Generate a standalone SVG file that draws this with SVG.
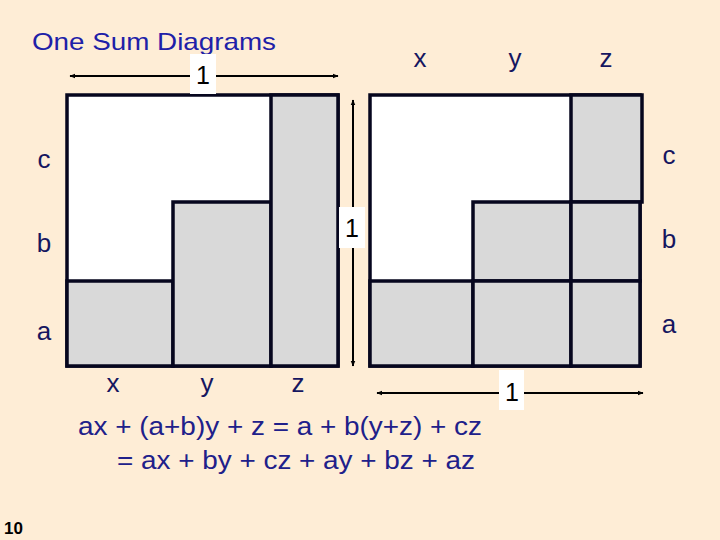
<svg xmlns="http://www.w3.org/2000/svg" width="720" height="540" viewBox="0 0 720 540">
<style>
.bg{fill:#FEEDD6}
.w{fill:#FFFFFF;stroke:#06061E;stroke-width:3.5}
.g{fill:#D9D9D9;stroke:#06061E;stroke-width:3.5}
.lbl{font-family:"Liberation Sans",Arial,sans-serif;font-size:26px;fill:#161660;text-anchor:middle}
.one{font-family:"Liberation Sans",Arial,sans-serif;font-size:25px;fill:#000;text-anchor:middle}
.title{font-family:"Liberation Sans",Arial,sans-serif;font-size:24px;fill:#2020A8}
.eq{font-family:"Liberation Sans",Arial,sans-serif;font-size:26px;fill:#20208A}
.arr{stroke:#000;stroke-width:2;fill:none;marker-start:url(#ah);marker-end:url(#ah)}
.lb{fill:#FFFFFF}
</style>
<defs>
<marker id="ah" viewBox="0 0 10 10" refX="9" refY="5" markerWidth="6" markerHeight="6" orient="auto-start-reverse" markerUnits="userSpaceOnUse">
<path d="M0,1 L10,5 L0,9 Z" fill="#000"/>
</marker>
</defs>
<rect class="bg" x="0" y="0" width="720" height="540"/>
<text class="title" x="32" y="50" textLength="244" lengthAdjust="spacingAndGlyphs">One Sum Diagrams</text>

<g id="left-diagram">
<rect class="w" x="67" y="95" width="271" height="271"/>
<rect class="g" x="67" y="281" width="106" height="85"/>
<rect class="g" x="173" y="202" width="98" height="164"/>
<rect class="g" x="271" y="95" width="67" height="271"/>
</g>

<g id="right-diagram">
<rect class="w" x="370" y="95" width="270" height="271"/>
<rect class="g" x="571" y="95" width="71" height="107"/>
<rect class="g" x="473" y="202" width="98" height="79"/>
<rect class="g" x="571" y="202" width="69" height="79"/>
<rect class="g" x="370" y="281" width="103" height="85"/>
<rect class="g" x="473" y="281" width="98" height="85"/>
<rect class="g" x="571" y="281" width="69" height="85"/>
</g>

<g id="connectors">
<line class="arr" x1="70" y1="76" x2="338" y2="76"/>
<line class="arr" x1="353" y1="100" x2="353" y2="366"/>
<line class="arr" x1="377" y1="393" x2="643" y2="393"/>
</g>

<g id="dim-labels">
<rect class="lb" x="190" y="54" width="26" height="40"/>
<text class="one" x="203" y="84">1</text>
<rect class="lb" x="339" y="207" width="26" height="41"/>
<text class="one" x="352" y="237">1</text>
<rect class="lb" x="499" y="370" width="25" height="40"/>
<text class="one" x="512" y="401">1</text>
</g>

<g id="labels">
<text class="lbl" x="44" y="168">c</text>
<text class="lbl" x="44" y="252">b</text>
<text class="lbl" x="44" y="340">a</text>
<text class="lbl" x="669" y="164">c</text>
<text class="lbl" x="669" y="248">b</text>
<text class="lbl" x="669" y="333">a</text>
<text class="lbl" x="420" y="67">x</text>
<text class="lbl" x="515" y="67">y</text>
<text class="lbl" x="606" y="67">z</text>
<text class="lbl" x="113" y="392">x</text>
<text class="lbl" x="207" y="392">y</text>
<text class="lbl" x="298" y="392">z</text>
</g>

<g id="equation">
<text class="eq" x="78" y="435" textLength="404" lengthAdjust="spacingAndGlyphs">ax + (a+b)y + z = a + b(y+z) + cz</text>
<text class="eq" x="117" y="469" textLength="358" lengthAdjust="spacingAndGlyphs">= ax + by + cz + ay + bz + az</text>
</g>

<text x="4" y="534" font-family="Liberation Sans,Arial,sans-serif" font-size="17" font-weight="bold" fill="#000">10</text>
</svg>
